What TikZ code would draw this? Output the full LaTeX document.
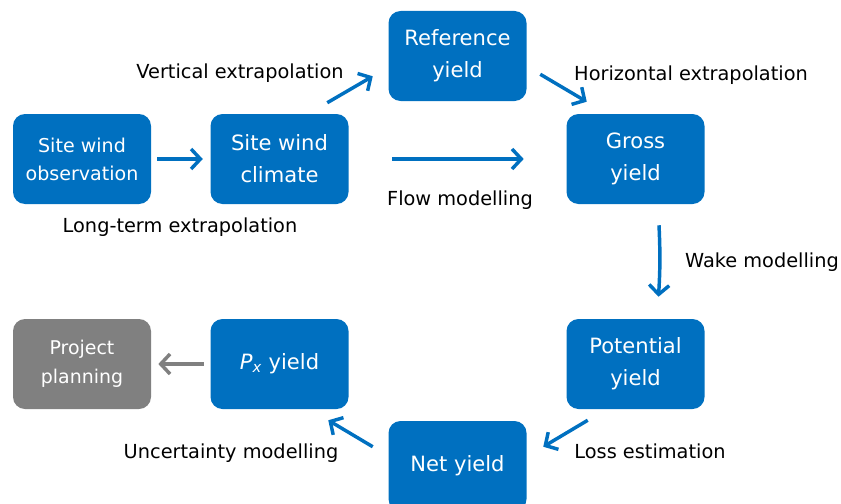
\documentclass[tikz,border=0pt]{standalone}
\usepackage{fontspec}
\setmainfont{DejaVu Sans}
\usetikzlibrary{arrows.meta}
\definecolor{yieldblue}{HTML}{0070C0}
\definecolor{plangray}{HTML}{808080}
\begin{document}
\begin{tikzpicture}[x=0.75pt,y=0.75pt,
    box/.style={fill=yieldblue,rounded corners=9pt,minimum width=103.5pt,minimum height=67.5pt,
      inner sep=0pt,text=white,align=center,font=\fontsize{15.8}{24}\selectfont},
    lbl/.style={anchor=base,font=\fontsize{14.5}{17}\selectfont},
    arr/.style={line width=2.6pt,draw=yieldblue,-{Straight Barb[length=7pt,width=15pt]}}]

      \useasboundingbox (0,0) rectangle (841,-503);

      \node[box,font=\fontsize{14.3}{21}\selectfont] (1) at (82,-159) {Site wind\\observation};
      \node[box] (2) at (279.5,-159) {Site wind\\climate};
      \node[box] (3) at (457.5,-56) {Reference\\yield};
      \node[box] (4) at (635.5,-159) {Gross\\yield};
      \node[box] (5) at (635.5,-364) {Potential\\yield};
      \node[box] (6) at (457.5,-466) {Net yield};
      \node[box] (7) at (279.5,-364) {{\itshape P}\textsubscript{\itshape x} yield};
      \node[box,fill=plangray,font=\fontsize{14.2}{22}\selectfont] (8) at (82,-364) {Project\\planning};

      \node[lbl] (l1) at (180,-232) {Long-term extrapolation};
      \node[lbl] (l2) at (240,-79) {Vertical extrapolation};
      \node[lbl] (l3) at (691,-80) {Horizontal extrapolation};
      \node[lbl] (l4) at (460,-205) {Flow modelling};
      \node[lbl] (l5) at (762,-267) {Wake modelling};
      \node[lbl] (l6) at (650,-458) {Loss estimation};
      \node[lbl] (l7) at (231,-458) {Uncertainty modelling};

      \draw[arr,shorten <=4.5pt,shorten >=5.6pt] (1) -- (2);
      \draw[arr] ([shift={(-21.5,11)}]2.north east) -- ([shift={(-15.5,25)}]3.south west);
      \draw[arr] ([shift={(13.5,27)}]3.south east) -- ([shift={(20.5,12)}]4.north west);
      \draw[arr,shorten <=32.6pt,shorten >=31.9pt] (2) -- (4);
      \draw[arr] ([shift={(23.5,-21)}]4.south) to[bend left=3] ([shift={(23,22)}]5.north);
      \draw[arr] ([shift={(21.5,-11)}]5.south west) -- ([shift={(16.5,-26)}]6.north east);
      \draw[arr] ([shift={(-15.5,-26)}]6.north west) -- ([shift={(-20.5,-11)}]7.south east);
      \draw[arr,draw=plangray,shorten <=4.9pt,shorten >=5.3pt] (7) -- (8);

    \end{tikzpicture}
\end{document}
